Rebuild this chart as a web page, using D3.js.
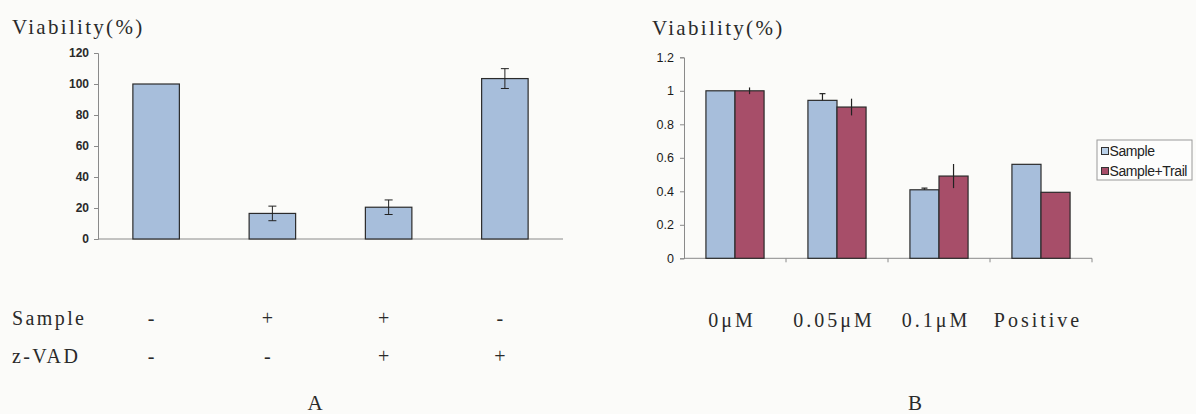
<!DOCTYPE html>
<html>
<head>
<meta charset="utf-8">
<script src="https://cdn.jsdelivr.net/npm/d3@7"></script>
<style>
  html, body { margin: 0; padding: 0; background: #fbfbf9; }
  svg { display: block; }
  .serif { font-family: "Liberation Serif", "Times New Roman", serif; fill: #2a2a2a; }
  .sans { font-family: "Liberation Sans", Arial, sans-serif; fill: #222; }
</style>
</head>
<body>
<svg id="chart" width="1196" height="414"></svg>
<script>
// Panel A: viability after Sample / z-VAD treatment
const groupsA = ["g1", "g2", "g3", "g4"];
const valuesA = [100, 16.5, 20.5, 103.5];
const errorsA = [0, 4.7, 4.7, 6.4];
const sampleRow = ["-", "+", "+", "-"];
const zvadRow = ["-", "-", "+", "+"];
const ticksA = [0, 20, 40, 60, 80, 100, 120];

// Panel B: viability by concentration, with and without Trail
const categoriesB = ["0\u03bcM", "0.05\u03bcM", "0.1\u03bcM", "Positive"];
const seriesB = ["Sample", "Sample+Trail"];
const sampleB = [1.0, 0.943, 0.409, 0.561];
const sampleErrB = [0, 0.04, 0.01, 0];
const trailB = [1.0, 0.903, 0.491, 0.394];
const trailErrB = [0.02, 0.05, 0.072, 0];
const ticksB = [0, 0.2, 0.4, 0.6, 0.8, 1, 1.2];

const svg = d3.select("#chart");
const blue = "#a7bedb";
const red = "#a74e69";
const axisGrey = "#8a8a8a";
const tickFont = "Liberation Sans, Arial, sans-serif";

// ---------- Panel A ----------
const xA = d3.scaleBand().domain(groupsA).range([98, 563]).paddingInner(0.6).paddingOuter(0.3);
const yA = d3.scaleLinear().domain([0, 120]).range([239, 53]);

const gA = svg.append("g");
const yAxisA = gA.append("g").attr("transform", "translate(98,0)")
  .call(d3.axisLeft(yA).tickValues(ticksA).tickSize(4).tickPadding(5));
yAxisA.select(".domain").attr("stroke", axisGrey);
yAxisA.selectAll(".tick line").attr("stroke", axisGrey);
yAxisA.selectAll(".tick text").attr("font-size", 12).attr("font-weight", "bold")
  .attr("font-family", tickFont).attr("fill", "#2a2a2a");

gA.append("line").attr("x1", 98).attr("x2", 563).attr("y1", yA(0)).attr("y2", yA(0))
  .attr("stroke", axisGrey);

gA.selectAll("rect.bar").data(valuesA).join("rect")
  .attr("class", "bar")
  .attr("x", (d, i) => xA(groupsA[i]))
  .attr("y", d => yA(d))
  .attr("width", xA.bandwidth())
  .attr("height", d => yA(0) - yA(d))
  .attr("fill", blue).attr("stroke", "#2b2b2b").attr("stroke-width", 1.2);

groupsA.forEach((g, i) => {
  const e = errorsA[i];
  if (!e) return;
  const cx = xA(g) + xA.bandwidth() / 2;
  const t = yA(valuesA[i] + e), b = yA(valuesA[i] - e);
  gA.append("line").attr("x1", cx).attr("x2", cx).attr("y1", t).attr("y2", b).attr("stroke", "#222");
  [t, b].forEach(y => gA.append("line").attr("x1", cx - 4).attr("x2", cx + 4)
    .attr("y1", y).attr("y2", y).attr("stroke", "#222"));
});

gA.append("text").attr("class", "serif").attr("x", 12).attr("y", 34)
  .attr("font-size", 21).attr("letter-spacing", "2.3px").text("Viability(%)");

gA.append("text").attr("class", "serif").attr("x", 12).attr("y", 325)
  .attr("font-size", 20).attr("letter-spacing", "2.4px").text("Sample");
gA.append("text").attr("class", "serif").attr("x", 12).attr("y", 363)
  .attr("font-size", 20).attr("letter-spacing", "2.4px").text("z-VAD");

[[sampleRow, 325], [zvadRow, 363]].forEach(([row, y]) => {
  gA.selectAll(null).data(row).join("text")
    .attr("class", "serif").attr("font-size", 20).attr("text-anchor", "middle")
    .attr("x", (d, i) => xA(groupsA[i]) + xA.bandwidth() / 2 - 5)
    .attr("y", y).text(d => d);
});

gA.append("text").attr("class", "serif").attr("x", 315).attr("y", 410)
  .attr("font-size", 21).attr("text-anchor", "middle").text("A");

// ---------- Panel B ----------
const xB = d3.scaleBand().domain(categoriesB).range([684, 1092]).paddingInner(0.43).paddingOuter(0.215);
const xInner = d3.scaleBand().domain(seriesB).range([0, xB.bandwidth()]);
const yB = d3.scaleLinear().domain([0, 1.2]).range([258.3, 57.3]);

const gB = svg.append("g");
const yAxisB = gB.append("g").attr("transform", "translate(684,0)")
  .call(d3.axisLeft(yB).tickValues(ticksB).tickFormat(d3.format("~g")).tickSize(4).tickPadding(6));
yAxisB.select(".domain").attr("stroke", axisGrey);
yAxisB.selectAll(".tick line").attr("stroke", axisGrey);
yAxisB.selectAll(".tick text").attr("font-size", 12.5)
  .attr("font-family", tickFont).attr("fill", "#1a1a1a");

gB.append("line").attr("x1", 684).attr("x2", 1092).attr("y1", yB(0)).attr("y2", yB(0))
  .attr("stroke", axisGrey);
// category boundary ticks on the x axis
const stepB = xB.step();
d3.range(1, categoriesB.length + 1).forEach(k => {
  const x = 684 + k * stepB;
  gB.append("line").attr("x1", x).attr("x2", x).attr("y1", yB(0)).attr("y2", yB(0) + 4)
    .attr("stroke", axisGrey);
});

const seriesData = [
  { name: seriesB[0], vals: sampleB, errs: sampleErrB, fill: blue, plusOnly: true, cap: 3 },
  { name: seriesB[1], vals: trailB, errs: trailErrB, fill: red, plusOnly: false, cap: 0 }
];

seriesData.forEach(s => {
  gB.selectAll(null).data(s.vals).join("rect")
    .attr("x", (d, i) => xB(categoriesB[i]) + xInner(s.name))
    .attr("y", d => yB(d))
    .attr("width", xInner.bandwidth())
    .attr("height", d => yB(0) - yB(d))
    .attr("fill", s.fill).attr("stroke", "#2b2b2b").attr("stroke-width", 1.2);
});

seriesData.forEach(s => {
  s.vals.forEach((v, i) => {
    const e = s.errs[i];
    if (!e) return;
    const cx = xB(categoriesB[i]) + xInner(s.name) + xInner.bandwidth() / 2;
    const t = yB(v + e), b = s.plusOnly ? yB(v) : yB(v - e);
    gB.append("line").attr("x1", cx).attr("x2", cx).attr("y1", t).attr("y2", b)
      .attr("stroke", "#222").attr("stroke-width", 1.2);
    if (s.cap) gB.append("line").attr("x1", cx - s.cap).attr("x2", cx + s.cap)
      .attr("y1", t).attr("y2", t).attr("stroke", "#222").attr("stroke-width", 1.2);
  });
});

gB.append("text").attr("class", "serif").attr("x", 652).attr("y", 35)
  .attr("font-size", 21).attr("letter-spacing", "2.3px").text("Viability(%)");

gB.selectAll(null).data(categoriesB).join("text")
  .attr("class", "serif").attr("font-size", 20).attr("letter-spacing", "3px")
  .attr("text-anchor", "middle")
  .attr("x", d => xB(d) + xB.bandwidth() / 2 - 3)
  .attr("y", 327).text(d => d);

gB.append("text").attr("class", "serif").attr("x", 915).attr("y", 410)
  .attr("font-size", 21).attr("text-anchor", "middle").text("B");

// legend
const leg = gB.append("g").attr("transform", "translate(1097,140)");
leg.append("rect").attr("width", 95).attr("height", 40)
  .attr("fill", "#fdfdfc").attr("stroke", "#9a9a9a");
seriesData.forEach((s, i) => {
  const y = 11 + i * 20;
  leg.append("rect").attr("x", 4.5).attr("y", y - 3.5).attr("width", 7).attr("height", 7)
    .attr("fill", i === 0 ? "#b9d0e8" : s.fill).attr("stroke", "#333").attr("stroke-width", 1);
  leg.append("text").attr("class", "sans").attr("x", 12.5).attr("y", y + 5)
    .attr("font-size", 14).attr("letter-spacing", "-0.4px").text(s.name);
});
</script>
</body>
</html>
